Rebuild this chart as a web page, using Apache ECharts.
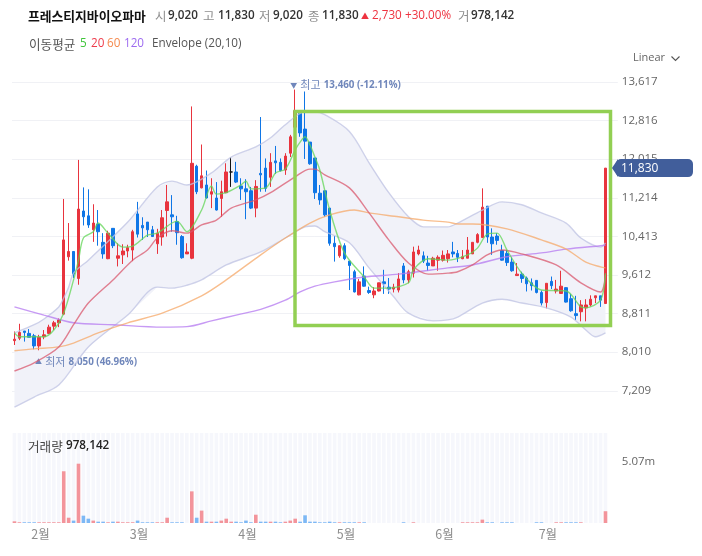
<!DOCTYPE html>
<html>
<head>
<meta charset="utf-8">
<style>html,body{margin:0;padding:0;background:#fff}#main{width:702px;height:556px}</style>
<script src="https://cdn.jsdelivr.net/npm/echarts@6/dist/echarts.min.js"></script>
</head>
<body>
<div id="main"></div>
<script>
const opens = [8250,8300,8450,8400,8350,8140,8330,8400,8550,8620,8800,9990,10100,9540,10940,10840,10550,10670,10290,9950,10580,9960,10030,10110,10130,10880,10640,10710,10550,10260,10400,10950,10860,10720,10410,10050,9960,11870,11420,11480,11290,11210,11200,11320,11750,11750,11460,11400,11360,11000,11720,11830,11640,11980,11950,11790,12140,12680,12980,12640,12370,12040,11310,11360,11000,10270,10010,10220,9900,9680,9200,9590,9290,9200,9280,9470,9360,9320,9300,9800,9510,9650,10050,10010,9860,9800,9920,9920,9950,10090,10060,9950,9960,10050,10290,10390,11040,10400,10420,10120,10060,9880,9600,9630,9550,9450,9500,9250,9040,9480,9280,9230,9350,9120,8810,8850,8930,8990,9140,9180,9020];
const closes = [8280,8420,8420,8320,8140,8320,8370,8530,8620,8680,10340,10100,9630,10980,10820,10650,10690,10510,10050,10480,10220,10010,10110,10180,10510,10460,10590,10550,10410,10480,10800,11130,10820,10490,9970,10090,11930,11340,11670,11210,11340,10960,11340,11750,11750,11540,11400,11340,11000,11450,11690,11410,11950,11940,11780,12080,12480,13020,12560,12390,11920,11320,11170,10860,10270,10200,10220,9950,9810,9260,9470,9380,9250,9280,9450,9430,9320,9360,9530,9510,9680,10090,10130,9900,9810,9960,9980,10020,10050,10050,9980,9990,10130,10290,10450,11020,10400,10260,10330,9920,9870,9700,9630,9540,9430,9390,9250,9030,9440,9390,9320,9380,9050,8870,8770,8990,8990,9110,9180,9090,11830];
const lows = [8160,8260,8230,8320,8070,8050,8280,8390,8470,8530,8780,9910,9550,9410,10640,10590,10300,10220,9950,9940,10170,9790,9840,9980,9900,10390,10340,10400,10400,10050,10220,10410,10510,10240,9950,10050,9940,11290,11410,11200,11000,10950,10820,11310,11440,11520,11170,10770,10980,10810,11340,11340,11440,11710,11760,11690,12060,12680,12480,12020,11900,11190,11070,10820,10220,9890,9970,9920,9300,9250,9190,9370,9220,9130,9270,9220,9220,9250,9250,9440,9440,9560,10020,9860,9700,9800,9700,9890,9870,9980,9880,9940,9960,10050,10270,10390,10280,10030,10240,9910,9800,9680,9600,9450,9270,9290,9230,8980,8920,9320,9230,9220,9040,8850,8680,8650,8650,8960,9030,8950,9020];
const highs = [8440,8600,8450,8490,8390,8370,8470,8580,8660,8710,11190,10690,10100,12000,11430,11390,11080,10960,10480,10530,10580,10270,10250,10240,10550,11130,10810,10710,10630,10570,10960,11480,11270,10840,10440,10270,13110,11900,12320,11780,11620,11540,11570,11930,12050,11960,11620,11600,11440,11580,12890,12030,12140,12290,12030,12140,12520,13460,12980,13420,12370,12040,11480,11360,11000,10420,10220,10270,9900,9720,9530,9790,9370,9360,9450,9720,9550,9430,9650,9860,9720,10200,10220,10100,10010,9990,10020,10120,10130,10300,10130,10130,10400,10290,10480,11410,11040,10580,10480,10240,10130,9980,9860,9680,9580,9540,9500,9290,9440,9580,9510,9700,9360,9220,9180,9090,9110,9190,9180,9180,11830];

// 거래량, 백만주
const volumes = [.14,.06,.06,.06,.06,.06,.06,.06,.06,.06,4.3,.44,.2,4.93,.61,.36,.2,.11,.11,.06,.11,.11,.06,.06,.06,.2,.06,.06,.06,.06,.06,.44,.06,.06,.06,0,2.63,.44,1.03,.11,.11,.11,.2,.36,.11,.11,.06,.2,.06,.69,.11,.11,.11,.11,.06,.11,.2,.36,.11,.64,.11,.11,.06,.06,.11,.06,.06,.06,.06,.06,.06,.06,0,0,0,0,0,0,0,.06,0,.06,0,0,0,0,0,0,0,0,0,.06,.06,.06,.06,.28,.06,.06,0,.06,.06,.06,0,0,0,0,.06,.06,0,0,.06,.06,.06,.06,.06,.06,0,0,0,0,.98];

// [캔들 번호, 값]
const ma5 = [[0,8410],[1,8330],[6,8330],[8,8470],[10,8820],[12,9510],[13,9920],[14,10380],[16,10510],[17,10690],[19,10480],[22,10190],[24,10210],[27,10440],[29,10480],[33,10730],[35,10510],[38,10960],[40,11460],[41,11290],[43,11320],[46,11480],[47,11560],[48,11400],[51,11420],[53,11730],[55,11810],[57,12210],[58,12370],[59,12480],[60,12310],[61,12060],[62,11790],[64,10960],[67,10070],[71,9570],[73,9340],[76,9340],[80,9450],[81,9720],[84,9950],[88,9920],[92,10030],[94,10170],[96,10460],[98,10480],[100,10130],[103,9650],[107,9300],[112,9280],[115,8950],[116,8930],[119,9090],[120,9650]];
const ma20 = [[0,7620],[4,7790],[9,8120],[12,8580],[15,9030],[20,9510],[24,9920],[27,10130],[29,10380],[32,10530],[35,10480],[38,10650],[41,10750],[44,11000],[49,11170],[52,11320],[57,11650],[60,11810],[61,11810],[63,11690],[68,11420],[72,10900],[76,10340],[80,9860],[84,9630],[88,9650],[90,9680],[93,9820],[96,10030],[99,10130],[103,10050],[110,9820],[115,9450],[119,9260],[120,9610]];
const ma60 = [[0,8040],[4,8080],[9,8120],[12,8200],[17,8410],[23,8620],[30,8820],[38,9180],[43,9510],[50,10030],[55,10380],[60,10690],[64,10860],[69,10960],[72,10900],[78,10820],[83,10750],[88,10710],[90,10670],[93,10670],[100,10570],[107,10340],[112,10150],[116,9880],[119,9780],[120,9760]];
const ma120 = [[0,8950],[6,8780],[12,8620],[20,8580],[30,8530],[35,8540],[40,8660],[45,8780],[50,8900],[55,9090],[58,9260],[61,9380],[65,9470],[71,9570],[78,9630],[88,9760],[93,9820],[100,9990],[107,10070],[112,10150],[119,10220],[120,10230]];
const envUpper = [[0,8410],[4,8580],[6,8700],[9,8950],[10,9135],[11,9360],[12,9650],[15,9920],[23,10710],[29,11440],[32,11560],[35,11480],[40,11730],[44,12060],[49,12270],[52,12460],[55,12730],[59,13000],[61,13000],[63,12940],[68,12590],[72,11940],[76,11320],[80,10820],[83,10610],[88,10610],[90,10690],[95,10960],[99,11130],[103,11070],[107,10900],[112,10690],[115,10380],[119,10190],[120,10280]];
const envLower = [[0,6870],[4,7080],[9,7330],[15,8120],[23,8780],[29,9360],[32,9340],[35,9400],[38,9510],[43,9820],[50,10090],[55,10380],[59,10610],[61,10630],[63,10510],[68,10280],[72,9760],[77,9160],[80,8820],[85,8660],[88,8680],[90,8740],[95,9030],[99,9110],[103,9030],[108,8930],[113,8740],[116,8470],[118,8330],[120,8410]];

const yMin = 6408, yMax = 13617, yStep = 801;
const monthIdx = [5,25,47,67,87,108];
const monthNames = ['2월','3월','4월','5월','6월','7월'];
const lastClose = closes[closes.length - 1];

// 오른쪽 여백용 빈 칸 2개
var categories = [];
for (let i = 0; i < 123; i++) {
  const m = monthIdx.indexOf(i);
  categories.push(m >= 0 ? monthNames[m] : '');
}

const UP = '#e8343e', DOWN = '#0f76e6';
const FONT = '"Open Sans","Noto Sans CJK KR",sans-serif';
const KR = '"Noto Sans CJK KR",sans-serif';

function txt(x, y, text, color, weight, size, family) {
  return {
    type: 'text', x: x, y: y, z: 20,
    style: {
      text: text, fill: color, fontSize: size || 11.7,
      fontWeight: weight || 'normal', fontFamily: family || FONT, textVerticalAlign: 'middle'
    }
  };
}

var chart = echarts.init(document.getElementById('main'), null, {renderer: 'canvas'});

function maLine(name, data, color) {
  return {
    name: name, type: 'line', data: data, xAxisIndex: 0, yAxisIndex: 0,
    symbol: 'none', smooth: 0.3, z: 5, silent: true,
    lineStyle: {color: color, width: 1.4, opacity: 0.75}
  };
}

var markRich = {
  t: {color: '#7087bb', fontSize: 7, fontFamily: KR},
  a: {color: '#7087bb', fontSize: 11, fontFamily: KR},
  b: {color: '#7087bb', fontSize: 9.8, fontWeight: 'bold', fontFamily: FONT}
};

var option = {
  animation: false,
  textStyle: {fontFamily: FONT},
  grid: [
    {left: 12, width: 605.8, top: 82, height: 347.4},
    {left: 12, width: 605.8, top: 433, height: 90}
  ],
  xAxis: [
    {type: 'category', gridIndex: 0, data: categories, show: false},
    {
      type: 'category', gridIndex: 1, data: categories,
      axisLine: {show: false}, axisTick: {show: false},
      axisLabel: {interval: 0, color: '#8e8e8e', fontSize: 12.5, fontFamily: KR, margin: 5, padding: [0, 0, 0, 3]}
    }
  ],
  yAxis: [
    {
      type: 'value', gridIndex: 0, position: 'right', min: yMin, max: yMax, interval: yStep,
      axisLine: {show: false}, axisTick: {show: false},
      splitLine: {show: true, showMinLine: false, lineStyle: {color: '#f0f1f5', width: 1}},
      axisLabel: {
        color: '#666', fontSize: 11.5, margin: 4,
        formatter: function (v) { return v === yMin ? '' : v.toLocaleString('en-US'); }
      }
    },
    {
      type: 'value', gridIndex: 1, position: 'right', min: 0, max: 7.48,
      axisLine: {show: false}, axisTick: {show: false}, splitLine: {show: false},
      axisLabel: {
        color: '#666', fontSize: 11.5, margin: 4, customValues: [5.07],
        formatter: function (v) { return v + 'm'; }
      }
    }
  ],
  series: [
    {
      // Envelope 밴드 채우기
      name: 'envelopeFill', type: 'custom', xAxisIndex: 0, yAxisIndex: 0, z: 1, silent: true,
      data: [[0, envUpper[0][1]]],
      renderItem: function (params, api) {
        var pts = [];
        envUpper.forEach(function (p) { pts.push(api.coord(p)); });
        envLower.slice().reverse().forEach(function (p) { pts.push(api.coord(p)); });
        return {type: 'polygon', shape: {points: pts}, style: {fill: '#f1f2f9', stroke: null}};
      }
    },
    {
      name: 'price', type: 'candlestick', xAxisIndex: 0, yAxisIndex: 0, z: 3,
      barWidth: 3,
      data: opens.map(function (o, i) { return [o, closes[i], lows[i], highs[i]]; }),
      itemStyle: {
        color: UP, color0: DOWN, borderColor: UP, borderColor0: DOWN,
        borderColorDoji: '#111', borderWidth: 1
      },
      markPoint: {
        symbol: 'rect', symbolSize: 0, silent: true,
        data: [
          {
            coord: [57, 13460],
            label: {
              show: true, position: 'inside', align: 'left', offset: [-5, -4.5],
              formatter: '{t|▼} {a|최고} {b|13,460 (-12.11%)}', rich: markRich
            }
          },
          {
            coord: [5, 8050],
            label: {
              show: true, position: 'inside', align: 'left', offset: [-4, 11.5],
              formatter: '{t|▲} {a|최저} {b|8,050 (46.96%)}', rich: markRich
            }
          }
        ]
      }
    },
    maLine('upper', envUpper, '#bfc3e3'),
    maLine('lower', envLower, '#bfc3e3'),
    maLine('120', ma120, '#b478f0'),
    maLine('60', ma60, '#f5a868'),
    maLine('20', ma20, '#d9586e'),
    maLine('5', ma5, '#62d655'),
    {
      name: 'volume', type: 'bar', xAxisIndex: 1, yAxisIndex: 1, barWidth: 3.6,
      showBackground: true, backgroundStyle: {color: '#f6f7fc'},
      data: volumes,
      itemStyle: {
        color: function (p) {
          return closes[p.dataIndex] >= opens[p.dataIndex] ? '#f3949b' : '#7db8f5';
        }
      }
    },
    {
      // 현재가 태그
      name: 'lastTag', type: 'custom', xAxisIndex: 0, yAxisIndex: 0, z: 30, silent: true,
      data: [[120, lastClose]],
      renderItem: function (params, api) {
        var y = api.coord([120, lastClose])[1];
        return {
          type: 'group',
          children: [
            {type: 'polygon', shape: {points: [[612, y], [618, y - 9], [618, y + 9]]}, style: {fill: '#415e9b'}},
            {type: 'rect', shape: {x: 616, y: y - 9, width: 77, height: 18, r: 5}, style: {fill: '#415e9b'}},
            {
              type: 'text', x: 621, y: y,
              style: {
                text: lastClose.toLocaleString('en-US'), fill: '#fff', fontSize: 12,
                fontFamily: FONT, textVerticalAlign: 'middle'
              }
            }
          ]
        };
      }
    }
  ],
  graphic: [
    {
      type: 'rect', z: 15, silent: true,
      shape: {x: 295, y: 111.5, width: 315.5, height: 214},
      style: {fill: null, stroke: '#92cf53', lineWidth: 3.5}
    },
    {
      type: 'polyline', z: 20, silent: true,
      shape: {points: [[671.5, 56.5], [675.5, 60.5], [679.5, 56.5]]},
      style: {fill: null, stroke: '#555', lineWidth: 1.1}
    },
    txt(28, 16, '프레스티지바이오파마', '#111', 'bold', 12.8, KR),
    txt(155, 16, '시', '#8e8e8e', 'normal', 12.5, KR),
    txt(168, 16, '9,020', '#333', '600'),
    txt(203, 16, '고', '#8e8e8e', 'normal', 12.5, KR),
    txt(218, 16, '11,830', '#333', '600'),
    txt(259, 16, '저', '#8e8e8e', 'normal', 12.5, KR),
    txt(273, 16, '9,020', '#333', '600'),
    txt(308, 16, '종', '#8e8e8e', 'normal', 12.5, KR),
    txt(322, 16, '11,830', '#333', '600'),
    txt(361, 16, '▲', '#ee3340', 'normal', 8, KR),
    txt(372, 16, '2,730', '#ee3340'),
    txt(405, 16, '+30.00%', '#ee3340'),
    txt(458, 16, '거', '#8e8e8e', 'normal', 12.5, KR),
    txt(471, 16, '978,142', '#333', '600'),
    txt(29, 44, '이동평균', '#555', 'normal', 12.6, KR),
    txt(80, 44, '5', '#3fc63a'),
    txt(91, 44, '20', '#ee3b4b'),
    txt(107, 44, '60', '#f58a4e'),
    txt(124, 44, '120', '#9d6bf0'),
    txt(152, 44, 'Envelope (20,10)', '#555'),
    txt(633, 58, 'Linear', '#666', 'normal', 11),
    txt(28, 446, '거래량', '#444', 'normal', 12.6, KR),
    txt(66, 446, '978,142', '#222', '600')
  ]
};
chart.setOption(option);
</script>
</body>
</html>
